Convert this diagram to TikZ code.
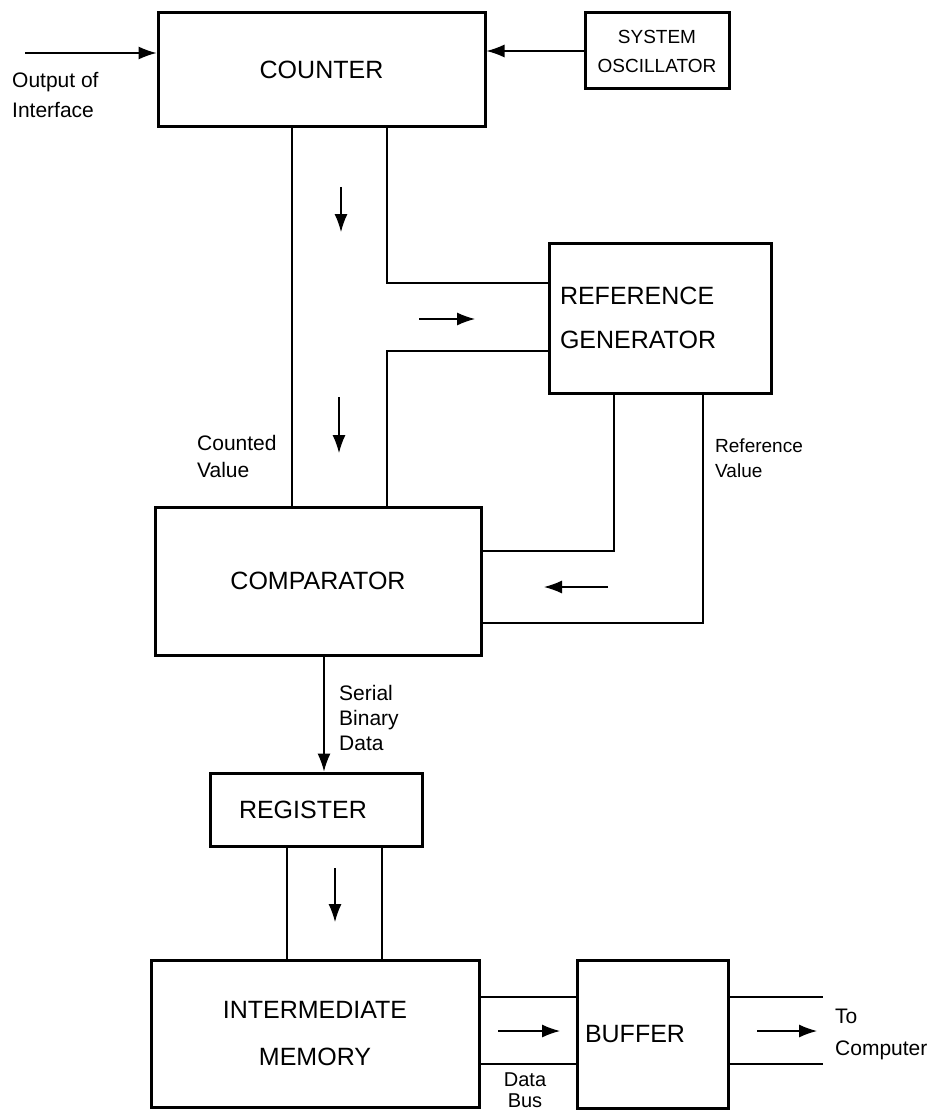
\documentclass[tikz,border=0pt]{standalone}
\usepackage{fontspec}
\setmainfont{Liberation Sans}
\usetikzlibrary{arrows.meta}
\tikzset{blk/.style={draw,line width=3pt,inner sep=0pt,font=\fontsize{25}{44}\selectfont},
  lbl/.style={inner sep=0pt,align=left,font=\fontsize{21}{26}\selectfont},
  bus/.style={line width=1.2pt},
  flow/.style={line width=1.2pt,-{Latex[length=18pt,width=13pt]}}}
\begin{document}
\begin{tikzpicture}[x=1pt,y=-1pt]
\useasboundingbox(0,0)rectangle(934,1110);
\node[blk,minimum width=327pt,minimum height=114pt](counter)at(321.5,70){COUNTER};
\node[blk,minimum width=144pt,minimum height=76pt,align=center,font=\fontsize{19}{29}\selectfont](osc)at(657,51){SYSTEM\\OSCILLATOR};
\node[blk,minimum height=150pt,text width=200pt,inner xsep=11pt,align=left](refgen)at(660,318){REFERENCE\\GENERATOR};
\node[blk,minimum width=326pt,minimum height=148pt](comp)at(318,581){COMPARATOR};
\node[blk,minimum height=73pt,text width=154pt,inner xsep=29pt,align=left](reg)at(316,809.5){REGISTER};
\node[blk,minimum width=328pt,minimum height=147pt,align=center,font=\fontsize{25}{47}\selectfont](mem)at(315,1033.5){INTERMEDIATE\\MEMORY};
\node[blk,minimum height=148pt,text width=135pt,inner xsep=8pt,align=left](buf)at(652.5,1034){BUFFER};
\node[lbl,anchor=west,font=\fontsize{21}{30}\selectfont](outif)at(12,95){Output of\\Interface};
\node[lbl,anchor=west,font=\fontsize{21}{27}\selectfont](cntv)at(197,456){Counted\\Value};
\node[lbl,anchor=west,font=\fontsize{19}{25}\selectfont](refv)at(715,458){Reference\\Value};
\node[lbl,anchor=west,font=\fontsize{21}{25}\selectfont](sbd)at(339,718){Serial\\Binary\\Data};
\node[lbl,anchor=west,font=\fontsize{21}{32}\selectfont](tocomp)at(835,1034){To\\Computer};
\node[lbl,align=center,font=\fontsize{20}{21}\selectfont](dbus)at(525,1090){Data\\Bus};
\coordinate(inp)at(25,53);
\draw[flow](inp)--(inp-|counter.west);\draw[flow](osc.west)--(osc.west-|counter.east);
\coordinate(bl)at(292,0);\coordinate(br)at(387,0);\coordinate(rt)at(0,283);\coordinate(rb)at(0,351);
\draw[bus](counter.south-|bl)--(comp.north-|bl);
\draw[bus](counter.south-|br)|-(refgen.west|-rt);\draw[bus](comp.north-|br)|-(refgen.west|-rb);
\coordinate(vl)at(614,551);\coordinate(vr)at(703,623);
\draw[bus](refgen.south-|vl)|-(comp.east|-vl);\draw[bus](refgen.south-|vr)|-(comp.east|-vr);
\coordinate(sd)at(324,0);\draw[flow](comp.south-|sd)--(reg.north-|sd);
\coordinate(ml)at(287,0);\coordinate(mr)at(382,0);
\draw[bus](reg.south-|ml)--(mem.north-|ml);\draw[bus](reg.south-|mr)--(mem.north-|mr);
\coordinate(dt)at(0,997);\coordinate(db)at(0,1064);\coordinate(tc)at(823,0);
\draw[bus](mem.east|-dt)--(buf.west|-dt);\draw[bus](mem.east|-db)--(buf.west|-db);
\draw[bus](buf.east|-dt)--(tc|-dt);\draw[bus](buf.east|-db)--(tc|-db);
\draw[flow](341,187)--(341,232);\draw[flow](339,397)--(339,453);
\draw[flow](419,319)--(475,319);\draw[flow](608,587)--(544,587);
\draw[flow](335,868)--(335,922);
\draw[flow](498,1031)--(560,1031);\draw[flow](757,1031)--(817,1031);
\end{tikzpicture}
\end{document}
